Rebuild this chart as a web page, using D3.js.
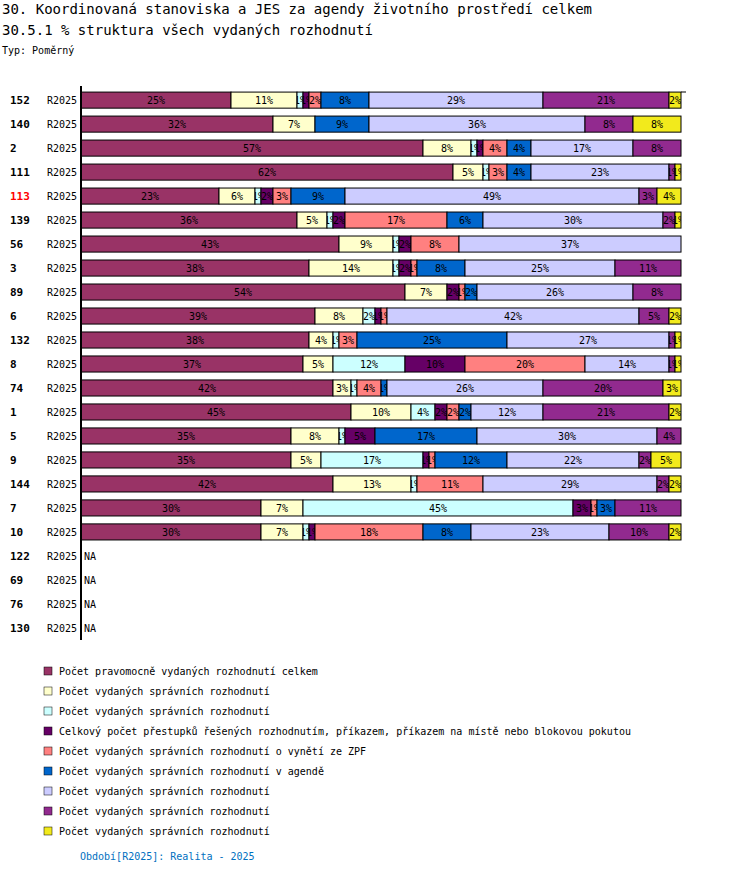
<!DOCTYPE html>
<html><head><meta charset="utf-8">
<script src="https://cdn.jsdelivr.net/npm/d3@7"></script>
<style>body{margin:0;background:#fff}text{font-family:"DejaVu Sans Mono",monospace}</style>
</head><body>
<svg id="chart" width="750" height="874"></svg>
<script>
// row ids, top to bottom
const rows = ['152','140','2','111','113','139','56','3','89','6','132','8','74','1','5','9','144','7','10','122','69','76','130'];
const period = 'R2025';
const seriesNames = ['Počet pravomocně vydaných rozhodnutí celkem','Počet vydaných správních rozhodnutí','Počet vydaných správních rozhodnutí',
  'Celkový počet přestupků řešených rozhodnutím, příkazem, příkazem na místě nebo blokovou pokutou','Počet vydaných správních rozhodnutí o vynětí ze ZPF',
  'Počet vydaných správních rozhodnutí v agendě','Počet vydaných správních rozhodnutí','Počet vydaných správních rozhodnutí','Počet vydaných správních rozhodnutí'];
const colors = ['#993366','#FFFFCC','#CCFFFF','#660066','#FF8080','#0066CC','#CCCCFF','#922A8F','#F2EA1C'];
// percentage shares per row (null = NA)
const values = [
  [25,11,1,1,2,8,29,21,2],
  [32,7,0,0,0,9,36,8,8],
  [57,8,1,1,4,4,17,8,0],
  [62,5,1,0,3,4,23,1,1],
  [23,6,1,2,3,9,49,3,4],
  [36,5,1,2,17,6,30,2,1],
  [43,9,1,2,8,0,37,0,0],
  [38,14,1,2,1,8,25,11,0],
  [54,7,0,2,1,2,26,8,0],
  [39,8,2,1,1,0,42,5,2],
  [38,4,1,0,3,25,27,1,1],
  [37,5,12,10,20,0,14,1,1],
  [42,3,1,0,4,1,26,20,3],
  [45,10,4,2,2,2,12,21,2],
  [35,8,1,5,0,17,30,4,0],
  [35,5,17,1,1,12,22,2,5],
  [42,13,1,0,11,0,29,2,2],
  [30,7,45,3,1,3,0,11,0],
  [30,7,1,1,18,8,23,10,2],
  null,null,null,null
];
const highlight = '113';

const svg = d3.select('#chart');
svg.append('text').attr('x',2).attr('y',14).attr('font-size',14)
  .text('30. Koordinovaná stanoviska a JES za agendy životního prostředí celkem');
svg.append('text').attr('x',2).attr('y',35).attr('font-size',14)
  .text('30.5.1 % struktura všech vydaných rozhodnutí');
svg.append('text').attr('x',2).attr('y',54).attr('font-size',10).text('Typ: Poměrný');

const x = d3.scaleLinear().domain([0,100]).range([81,681]);
const y = d3.scaleBand().domain(rows).range([88,640]).paddingInner(0.33).paddingOuter(0.17);

const g = svg.append('g');
rows.forEach((r,i)=>{
  const cy = y(r)+y.bandwidth()/2;
  svg.append('text').attr('x',10).attr('y',cy+4).attr('font-size',11).attr('font-weight','bold')
    .attr('fill', r===highlight?'#FF0000':'#000').text(r);
  svg.append('text').attr('x',47).attr('y',cy+4).attr('font-size',10).text(period);
  const v = values[i];
  if(!v){ svg.append('text').attr('x',84).attr('y',cy+4).attr('font-size',10).text('NA'); return; }
  const tot = d3.sum(v); let acc=0;
  v.forEach((val,k)=>{
    if(!val) return;
    const x0 = x(acc/tot*100), x1 = x((acc+val)/tot*100); acc+=val;
    const id = `c${i}_${k}`;
    g.append('clipPath').attr('id',id).append('rect').attr('x',x0).attr('y',y(r)).attr('width',x1-x0).attr('height',y.bandwidth());
    g.append('rect').attr('x',x0).attr('y',y(r)).attr('width',x1-x0).attr('height',y.bandwidth())
      .attr('fill',colors[k]).attr('stroke','#000').attr('stroke-width',1);
    g.append('text').attr('clip-path',`url(#${id})`).attr('x',(x0+x1)/2).attr('y',cy+4)
      .attr('text-anchor','middle').attr('font-size',10).text(val+'%');
  });
});
svg.append('line').attr('x1',81).attr('x2',81).attr('y1',86).attr('y2',640).attr('stroke','#000').attr('stroke-width',2);
svg.append('line').attr('x1',681).attr('x2',686).attr('y1',92).attr('y2',92).attr('stroke','#000');

const lg = svg.append('g');
seriesNames.forEach((n,k)=>{
  const ly = 671+k*20;
  lg.append('rect').attr('x',44).attr('y',ly-4).attr('width',8).attr('height',8).attr('fill',colors[k]).attr('stroke','#000').attr('stroke-width',0.5);
  lg.append('text').attr('x',59).attr('y',ly+4).attr('font-size',10).text(n);
});
svg.append('text').attr('x',80).attr('y',860).attr('font-size',10).attr('fill','#0070C0').text('Období[R2025]: Realita - 2025');
</script>
</body></html>
